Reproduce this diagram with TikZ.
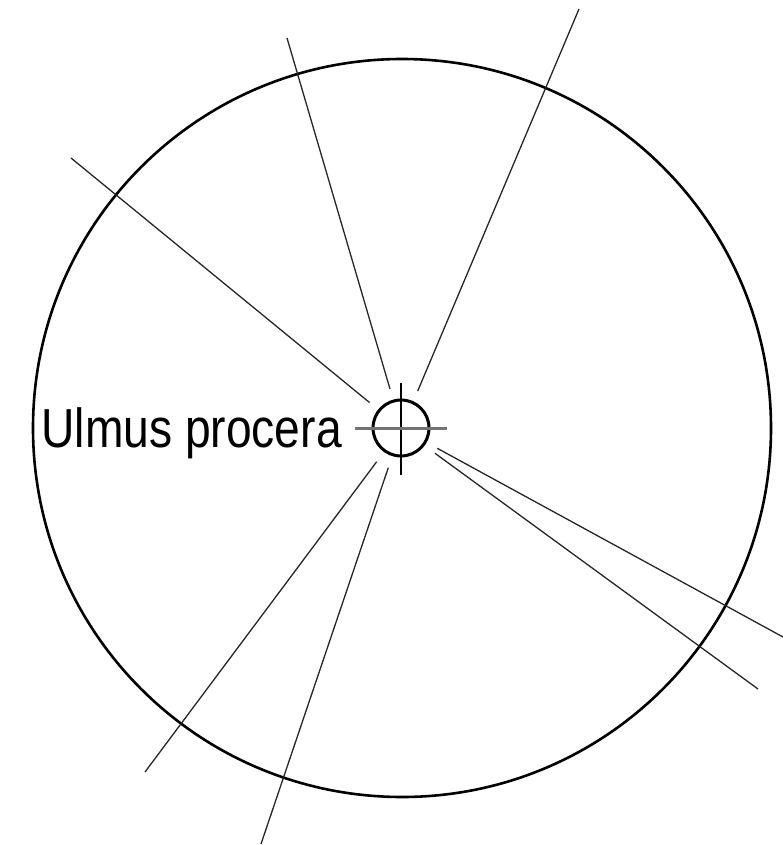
\documentclass[tikz,border=0pt]{standalone}
\usepackage{fontspec}
\setmainfont{Liberation Sans}
\tikzset{
  ray/.style={draw=black!85, line width=1.3pt},
  bigring/.style={circle, draw=black, line width=2.6pt, minimum size=738pt, inner sep=0pt},
  treering/.style={circle, draw=black, line width=3pt, minimum size=56pt, inner sep=0pt},
  label/.style={inner sep=0pt, anchor=base east}
}
\begin{document}
\begin{tikzpicture}[x=1pt,y=-1pt]
\useasboundingbox (0,0) rectangle (783,845);
\node[bigring] (big) at (402,428) {};
\node[treering] (tree) at (401,428) {};
\draw[black, line width=1.9pt] (401,383) coordinate (vt) -- (401,475) coordinate (vb);
\draw[black!55, line width=2.2pt] (355,428.5) coordinate (hl) -- (447,428.5) coordinate (hr);
\node[label] (name) at (342,447) {\fontsize{55}{60}\selectfont\scalebox{0.84}[1]{Ulmus procera}};
% rays
\coordinate (a1) at (369.5,402.5); \coordinate (b1) at (71,158);
\coordinate (a2) at (390,389);     \coordinate (b2) at (287,38);
\coordinate (a3) at (417.7,391);   \coordinate (b3) at (579,9);
\coordinate (a4) at (437.3,448.3); \coordinate (b4) at (783,637);
\coordinate (a5) at (435,453.3);   \coordinate (b5) at (758,689);
\coordinate (a6) at (376.7,461.7); \coordinate (b6) at (145,772);
\coordinate (a7) at (388.3,467.7); \coordinate (b7) at (261,844);
\foreach \i in {1,...,7} {\draw[ray] (a\i) -- (b\i);}
\end{tikzpicture}
\end{document}
